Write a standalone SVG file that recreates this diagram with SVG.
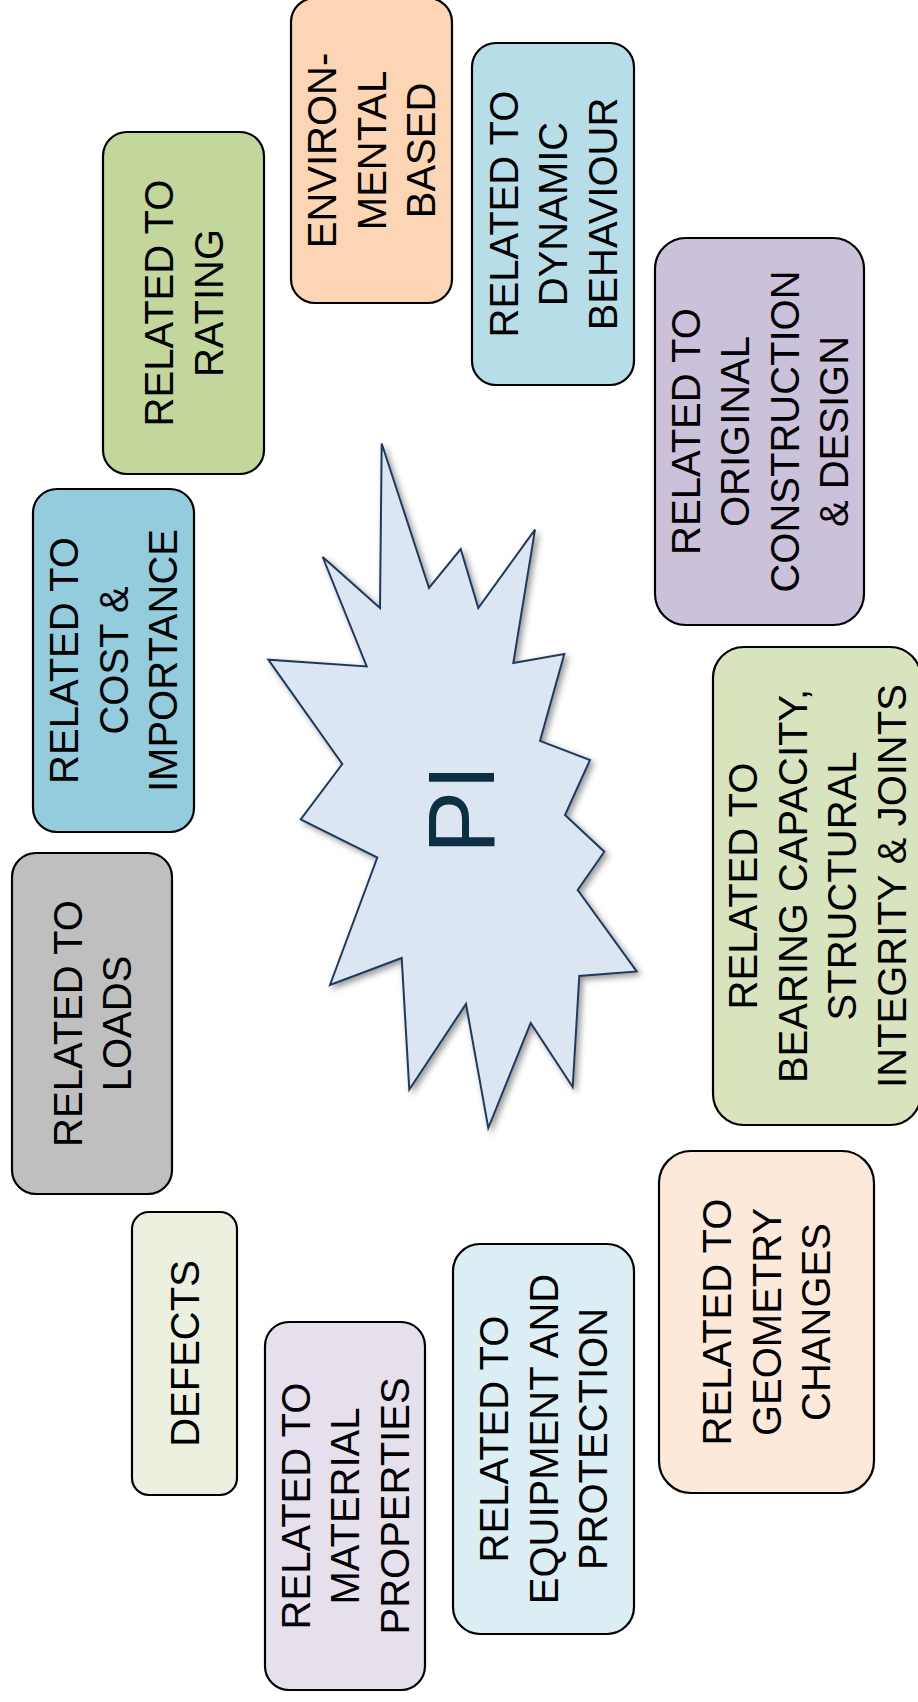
<svg xmlns="http://www.w3.org/2000/svg" width="918" height="1702" viewBox="0 0 918 1702">
  <defs>
    <filter id="softShadow" x="-20%" y="-20%" width="140%" height="140%">
      <feDropShadow dx="3" dy="3" stdDeviation="3" flood-color="#000" flood-opacity="0.4"/>
    </filter>
  </defs>
  <style>
    .box{stroke:#000;stroke-width:2.2}
    .lbl{font-family:"Liberation Sans",Arial,sans-serif;font-size:40px;fill:#000;text-anchor:middle}
    .burst{fill:#dce6f2;stroke:#1f3a5f;stroke-width:2;stroke-linejoin:miter}
    .pi{font-family:"Liberation Sans",Arial,sans-serif;font-size:95px;fill:#0c2f42;text-anchor:middle}
  </style>
  <rect width="918" height="1702" fill="#fff"/>

  <!-- central burst -->
  <g id="node-pi">
    <polygon class="burst" filter="url(#softShadow)" points="381.7,443.5 429,588 460.7,549 478.3,608 535,529.6 513.3,663 564.3,654 540,741 590,760 565,815 604.3,851.7 577.7,890 636.7,971.5 579.3,976 572.7,1087 530.7,1023 488.3,1128 466,1004 409.3,1089.5 401.7,958 330,985 377.3,857.5 300.7,819.4 342.3,764 268.3,659.7 366.7,666.4 322.7,557 380,608"/>
    <text class="pi" transform="translate(460,809) rotate(-90)" x="0" y="34">PI</text>
  </g>

  <g id="node-rating">
    <rect class="box" x="103" y="132" width="161" height="342" rx="24" fill="#c3d69b"/>
    <text class="lbl" transform="translate(183.5,303) rotate(-90)"><tspan x="0" y="-10.45">RELATED TO</tspan><tspan x="0" y="39.05">RATING</tspan></text>
  </g>

  <g id="node-environmental">
    <rect class="box" x="291" y="-2" width="161" height="305" rx="24" fill="#fcd5b5"/>
    <text class="lbl" transform="translate(371.5,150.5) rotate(-90)"><tspan x="0" y="-35.2">ENVIRON-</tspan><tspan x="0" y="14.3">MENTAL</tspan><tspan x="0" y="63.8">BASED</tspan></text>
  </g>

  <g id="node-dynamic">
    <rect class="box" x="472" y="43" width="162" height="342" rx="24" fill="#b7dee8"/>
    <text class="lbl" transform="translate(553,214) rotate(-90)"><tspan x="0" y="-35.2">RELATED TO</tspan><tspan x="0" y="14.3">DYNAMIC</tspan><tspan x="0" y="63.8">BEHAVIOUR</tspan></text>
  </g>

  <g id="node-original">
    <rect class="box" x="655" y="238" width="209" height="387" rx="31" fill="#ccc1da"/>
    <text class="lbl" transform="translate(759.5,431.5) rotate(-90)"><tspan x="0" y="-59.95">RELATED TO</tspan><tspan x="0" y="-10.45">ORIGINAL</tspan><tspan x="0" y="39.05">CONSTRUCTION</tspan><tspan x="0" y="88.55">&amp; DESIGN</tspan></text>
  </g>

  <g id="node-cost">
    <rect class="box" x="33" y="489" width="161" height="343" rx="24" fill="#93cddd"/>
    <text class="lbl" transform="translate(113.5,660.5) rotate(-90)"><tspan x="0" y="-35.2">RELATED TO</tspan><tspan x="0" y="14.3">COST &amp;</tspan><tspan x="0" y="63.8">IMPORTANCE</tspan></text>
  </g>

  <g id="node-bearing">
    <rect class="box" x="713" y="647" width="208" height="478" rx="31" fill="#d7e4bd"/>
    <text class="lbl" transform="translate(817,886) rotate(-90)"><tspan x="0" y="-59.95">RELATED TO</tspan><tspan x="0" y="-10.45">BEARING CAPACITY,</tspan><tspan x="0" y="39.05">STRUCTURAL</tspan><tspan x="0" y="88.55">INTEGRITY &amp; JOINTS</tspan></text>
  </g>

  <g id="node-loads">
    <rect class="box" x="12" y="853" width="160" height="341" rx="24" fill="#bfbfbf"/>
    <text class="lbl" transform="translate(92,1023.5) rotate(-90)"><tspan x="0" y="-10.45">RELATED TO</tspan><tspan x="0" y="39.05">LOADS</tspan></text>
  </g>

  <g id="node-geometry">
    <rect class="box" x="659" y="1151" width="215" height="342" rx="32" fill="#fde9d9"/>
    <text class="lbl" transform="translate(766.5,1322) rotate(-90)"><tspan x="0" y="-35.2">RELATED TO</tspan><tspan x="0" y="14.3">GEOMETRY</tspan><tspan x="0" y="63.8">CHANGES</tspan></text>
  </g>

  <g id="node-defects">
    <rect class="box" x="132" y="1212" width="105" height="283" rx="17" fill="#ebf1de"/>
    <text class="lbl" transform="translate(184.5,1353.5) rotate(-90)"><tspan x="0" y="14.3">DEFECTS</tspan></text>
  </g>

  <g id="node-equipment">
    <rect class="box" x="453" y="1244" width="181" height="390" rx="27" fill="#dbeef4"/>
    <text class="lbl" transform="translate(543.5,1439) rotate(-90)"><tspan x="0" y="-35.2">RELATED TO</tspan><tspan x="0" y="14.3">EQUIPMENT AND</tspan><tspan x="0" y="63.8">PROTECTION</tspan></text>
  </g>

  <g id="node-material">
    <rect class="box" x="265" y="1322" width="160" height="368" rx="24" fill="#e5e0ec"/>
    <text class="lbl" transform="translate(345,1506) rotate(-90)"><tspan x="0" y="-35.2">RELATED TO</tspan><tspan x="0" y="14.3">MATERIAL</tspan><tspan x="0" y="63.8">PROPERTIES</tspan></text>
  </g>

  <g id="connectors"/>
</svg>
